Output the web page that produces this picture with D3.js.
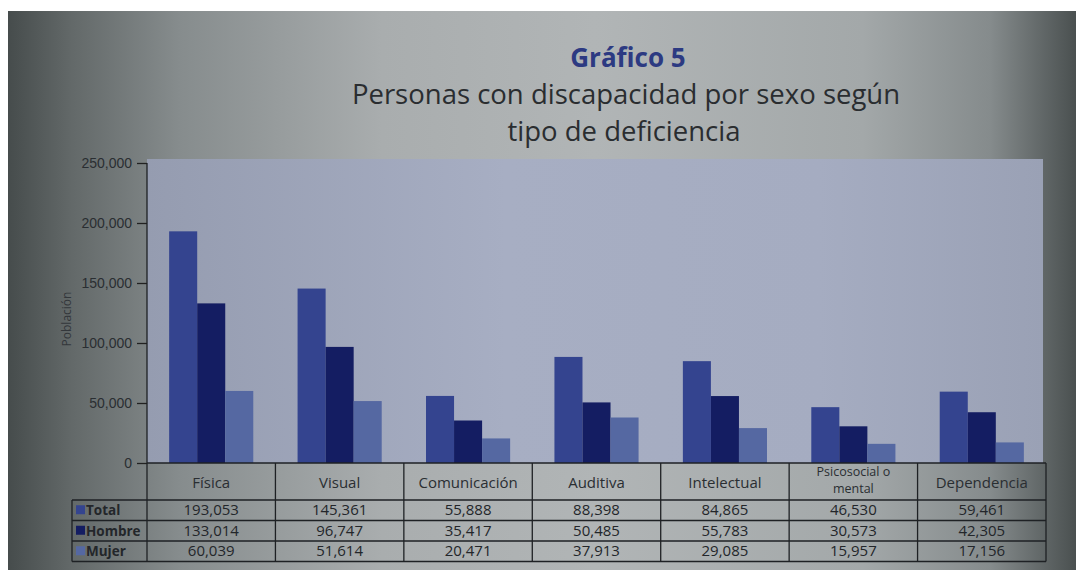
<!DOCTYPE html>
<html>
<head>
<meta charset="utf-8">
<script src="https://cdn.jsdelivr.net/npm/d3@7"></script>
<style>
  html, body { margin: 0; padding: 0; background: #fff; }
  svg { display: block; font-family: "Open Sans", "Noto Sans", sans-serif; }
</style>
</head>
<body>
<div id="chart"></div>
<script>
// Data
const categories = ["Física", "Visual", "Comunicación", "Auditiva", "Intelectual", "Psicosocial o mental", "Dependencia"];
const series = ["Total", "Hombre", "Mujer"];
const total = [193053, 145361, 55888, 88398, 84865, 46530, 59461];
const hombre = [133014, 96747, 35417, 50485, 55783, 30573, 42305];
const mujer = [60039, 51614, 20471, 37913, 29085, 15957, 17156];
const yTicks = [0, 50000, 100000, 150000, 200000, 250000];

const values = { Total: total, Hombre: hombre, Mujer: mujer };
const colors = { Total: "#34448f", Hombre: "#141d62", Mujer: "#5568a2" };

// Layout
const W = 1076, H = 573;
const plot = { left: 147, right: 1046, top: 163, bottom: 463 };
const table = { left: 72, headerBottom: 500, rowH: 20.5 };

const svg = d3.select("#chart").append("svg").attr("width", W).attr("height", H);

// photo-like backdrop
const defs = svg.append("defs");
const bg = defs.append("linearGradient").attr("id", "bg");
[[0, "#464c4c"], [0.06, "#636969"], [0.16, "#868c8d"], [0.35, "#a9adae"], [0.55, "#b1b5b6"], [0.8, "#a3a8a9"], [0.92, "#858b8c"], [1, "#4a5050"]]
    .forEach(([o, c]) => bg.append("stop").attr("offset", o).attr("stop-color", c));
const pg = defs.append("linearGradient").attr("id", "pg");
[[0, "#959cb0"], [0.4, "#a7aec3"], [0.75, "#a5acc1"], [1, "#9aa1b5"]]
    .forEach(([o, c]) => pg.append("stop").attr("offset", o).attr("stop-color", c));

svg.append("rect").attr("x", 8).attr("y", 11).attr("width", W - 8).attr("height", 559).attr("fill", "url(#bg)");

// Titles
svg.append("text").attr("x", 628).attr("y", 67).attr("text-anchor", "middle")
    .attr("font-size", 26).attr("font-weight", "bold").attr("fill", "#2c3a82").text("Gráfico 5");
svg.append("text").attr("x", 626).attr("y", 104).attr("text-anchor", "middle")
    .attr("font-size", 27.5).attr("fill", "#2a2d30").text("Personas con discapacidad por sexo según");
svg.append("text").attr("x", 624).attr("y", 141).attr("text-anchor", "middle")
    .attr("font-size", 27.5).attr("fill", "#2a2d30").text("tipo de deficiencia");

// Scales
const x = d3.scaleBand().domain(categories).range([plot.left, plot.right]);
const x1 = d3.scaleBand().domain(series).range([0, x.bandwidth()]).paddingOuter(0.79);
const y = d3.scaleLinear().domain([0, 250000]).range([plot.bottom, plot.top]);

// Plot background
svg.append("rect").attr("x", plot.left).attr("y", plot.top - 4)
    .attr("width", plot.right - 3 - plot.left).attr("height", plot.bottom - plot.top + 4)
    .attr("fill", "url(#pg)");

// Bars
const groups = svg.append("g").selectAll("g")
    .data(categories)
    .join("g")
    .attr("transform", d => `translate(${x(d)},0)`);
groups.selectAll("rect")
    .data((d, i) => series.map(s => ({ s, v: values[s][i] })))
    .join("rect")
    .attr("x", d => x1(d.s))
    .attr("y", d => y(d.v))
    .attr("width", x1.bandwidth())
    .attr("height", d => y(0) - y(d.v))
    .attr("fill", d => colors[d.s]);

// Y axis
const yAxis = d3.axisLeft(y).tickValues(yTicks).tickFormat(d3.format(",")).tickSize(10).tickPadding(5);
const ya = svg.append("g").attr("transform", `translate(${plot.left},0)`).call(yAxis);
ya.select(".domain").remove();
ya.selectAll("line").attr("stroke", "#222").attr("stroke-width", 1.3);
ya.selectAll("text").attr("font-size", 14).attr("fill", "#2a2e32").attr("font-family", "inherit");

svg.append("text")
    .attr("transform", `translate(71,${(plot.top + plot.bottom) / 2 + 6}) rotate(-90)`)
    .attr("text-anchor", "middle").attr("font-size", 12).attr("fill", "#33373b").text("Población");

// Table
const rowTop = i => table.headerBottom + i * table.rowH;
const tableBottom = rowTop(series.length);
const lines = svg.append("g").attr("stroke", "#1e2124").attr("stroke-width", 1.3);

lines.append("line").attr("x1", plot.left).attr("x2", plot.left).attr("y1", plot.top).attr("y2", tableBottom);
lines.append("line").attr("x1", plot.left).attr("x2", plot.right).attr("y1", plot.bottom).attr("y2", plot.bottom);
lines.append("line").attr("x1", table.left).attr("x2", table.left).attr("y1", table.headerBottom).attr("y2", tableBottom);
d3.range(series.length + 1).forEach(i =>
    lines.append("line").attr("x1", table.left).attr("x2", plot.right).attr("y1", rowTop(i)).attr("y2", rowTop(i)));
categories.forEach(c =>
    lines.append("line").attr("x1", x(c) + x.bandwidth()).attr("x2", x(c) + x.bandwidth())
        .attr("y1", plot.bottom).attr("y2", tableBottom));

// Category header labels
const header = svg.append("g").attr("fill", "#2a2e32").attr("text-anchor", "middle");
categories.forEach(c => {
    const cx = x(c) + x.bandwidth() / 2;
    if (c === "Psicosocial o mental") {
        header.append("text").attr("x", cx).attr("y", 476).attr("font-size", 12.5).text("Psicosocial o");
        header.append("text").attr("x", cx).attr("y", 493).attr("font-size", 12.5).text("mental");
    } else {
        header.append("text").attr("x", cx).attr("y", 488).attr("font-size", 15).text(c);
    }
});

// Legend column + values
series.forEach((s, r) => {
    const ty = rowTop(r) + table.rowH / 2 + 5;
    svg.append("rect").attr("x", table.left + 4).attr("y", ty - 10).attr("width", 9).attr("height", 9).attr("fill", colors[s]);
    svg.append("text").attr("x", table.left + 14).attr("y", ty).attr("font-size", 13.5)
        .attr("font-weight", "bold").attr("fill", "#23262a").text(s);
    categories.forEach((c, i) => {
        svg.append("text").attr("x", x(c) + x.bandwidth() / 2).attr("y", ty)
            .attr("text-anchor", "middle").attr("font-size", 15).attr("fill", "#23262a")
            .text(d3.format(",")(values[s][i]));
    });
});
</script>
</body>
</html>
